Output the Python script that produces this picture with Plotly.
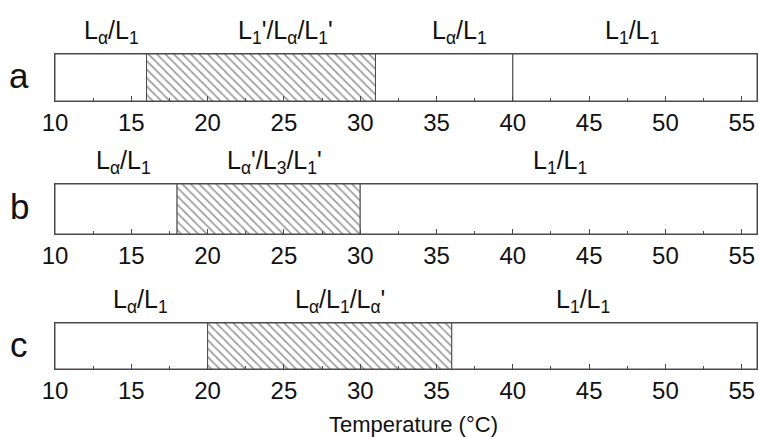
import plotly.graph_objects as go

# ---- data ----
row_names = ["a", "b", "c"]
a_bounds = [10, 16, 31, 40, 56]
a_hatch = [False, True, False, False]
b_bounds = [10, 18, 30, 56]
b_hatch = [False, True, False]
c_bounds = [10, 20, 36, 56]
c_hatch = [False, True, False]

a_labels = ["L<sub>α</sub>/L<sub>1</sub>", "L<sub>1</sub>'/L<sub>α</sub>/L<sub>1</sub>'",
            "L<sub>α</sub>/L<sub>1</sub>", "L<sub>1</sub>/L<sub>1</sub>"]
a_label_x = [13.7, 25.1, 36.5, 47.8]
b_labels = ["L<sub>α</sub>/L<sub>1</sub>", "L<sub>α</sub>'/L<sub>3</sub>/L<sub>1</sub>'",
            "L<sub>1</sub>/L<sub>1</sub>"]
b_label_x = [14.5, 24.4, 43.1]
c_labels = ["L<sub>α</sub>/L<sub>1</sub>", "L<sub>α</sub>/L<sub>1</sub>/L<sub>α</sub>'",
            "L<sub>1</sub>/L<sub>1</sub>"]
c_label_x = [15.6, 28.7, 44.6]

x_range = [10, 56]
axis_title = "Temperature (°C)"

# ---- layout geometry (pixels in 759x437) ----
W, H = 759, 437
def py(p):
    return 1 - p / H

x_dom = [55 / W, 757 / W]
row_px = [(54, 101), (184, 234), (323, 369)]   # top, bottom of each bar
label_px = [32, 162, 301]
FONT = "Liberation Sans, Arial, sans-serif"
LINE = "#4a4a4a"
TXT = "#111111"

rows = [(a_bounds, a_hatch, a_labels, a_label_x),
        (b_bounds, b_hatch, b_labels, b_label_x),
        (c_bounds, c_hatch, c_labels, c_label_x)]

fig = go.Figure()
annotations = []
for i, (bounds, hatch, labels, lx) in enumerate(rows):
    k = "" if i == 0 else str(i + 1)
    starts = bounds[:-1]
    lengths = [e - s for s, e in zip(bounds[:-1], bounds[1:])]
    fig.add_trace(go.Bar(
        x=lengths, base=starts, y=[0] * len(starts), orientation="h", width=1,
        xaxis="x" + k, yaxis="y" + k, showlegend=False, hoverinfo="skip",
        marker=dict(color="white",
                    line=dict(color=LINE, width=1),
                    pattern=dict(shape=["\\" if h else "" for h in hatch],
                                 size=6, solidity=0.25, fgcolor="#222222",
                                 bgcolor="white", fillmode="overlay")),
    ))
    top, bot = row_px[i]
    fig.layout["xaxis" + k] = dict(
        domain=x_dom, range=x_range, anchor="y" + k, dtick=5, tick0=10,
        ticks="inside", ticklen=5, tickwidth=1, tickcolor=LINE,
        minor=dict(ticks="inside", dtick=2.5, ticklen=3, tickcolor=LINE),
        showline=True, linecolor=LINE, linewidth=1, mirror=True,
        showgrid=False, zeroline=False, automargin=False,
        tickfont=dict(family=FONT, size=24, color=TXT), ticklabelstandoff=0,
    )
    fig.layout["yaxis" + k] = dict(
        domain=[py(bot), py(top)], range=[-0.5, 0.5], anchor="x" + k,
        showticklabels=False, ticks="", showgrid=False, zeroline=False,
        showline=True, linecolor=LINE, linewidth=1, mirror=True, automargin=False,
    )
    annotations.append(dict(text=row_names[i], xref="paper", yref="paper",
                            x=19 / W, y=py((top + bot) / 2 - 2), showarrow=False,
                            font=dict(family=FONT, size=35, color=TXT),
                            xanchor="center", yanchor="middle"))
    for t, xv in zip(labels, lx):
        annotations.append(dict(text=t, xref="x" + k, yref="paper", x=xv,
                                y=py(label_px[i]), showarrow=False,
                                font=dict(family=FONT, size=25, color=TXT),
                                xanchor="center", yanchor="middle"))

annotations.append(dict(text=axis_title, xref="paper", yref="paper",
                        x=413 / W, y=py(424), showarrow=False,
                        font=dict(family=FONT, size=22, color=TXT),
                        xanchor="center", yanchor="middle"))

fig.update_layout(
    width=W, height=H, margin=dict(l=0, r=0, t=0, b=0, autoexpand=False),
    paper_bgcolor="white", plot_bgcolor="white",
    barmode="overlay", annotations=annotations,
)

fig.write_html("out.html")
